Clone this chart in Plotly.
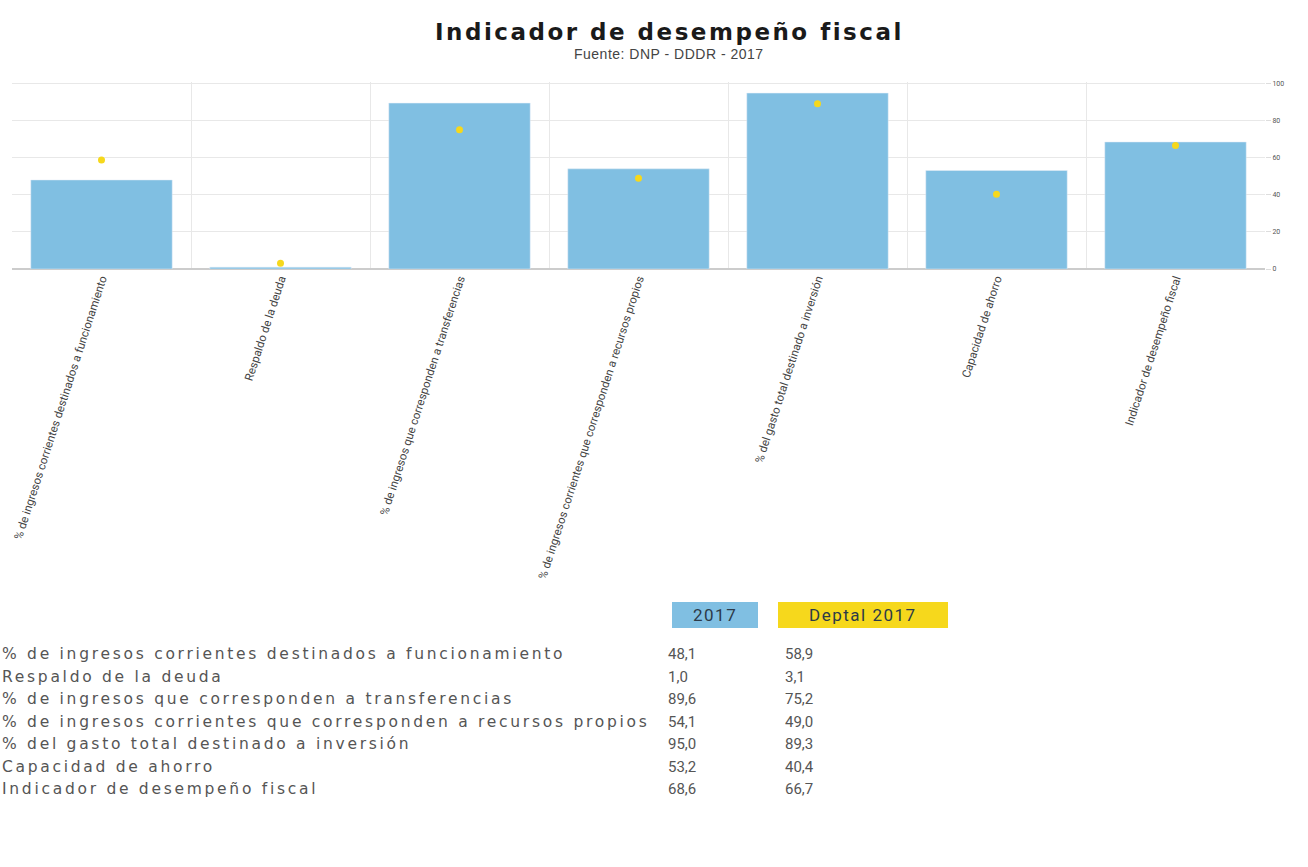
import plotly.graph_objects as go

# ---- data ----
categories = [
    "% de ingresos corrientes destinados a funcionamiento",
    "Respaldo de la deuda",
    "% de ingresos que corresponden a transferencias",
    "% de ingresos corrientes que corresponden a recursos propios",
    "% del gasto total destinado a inversión",
    "Capacidad de ahorro",
    "Indicador de desempeño fiscal",
]
values_2017 = [48.1, 1.0, 89.6, 54.1, 95.0, 53.2, 68.6]
values_deptal = [58.9, 3.1, 75.2, 49.0, 89.3, 40.4, 66.7]
y_ticks = [0, 20, 40, 60, 80, 100]
header_mun = "2017"
header_dep = "Deptal 2017"
title_text = "Indicador de desempeño fiscal"
subtitle_text = "Fuente: DNP - DDDR - 2017"

# ---- geometry ----
W, H = 1308, 867
PL, PR, PT, PB = 12, 1265, 82, 269   # plot area in pixels

def px(x):
    return (x - PL) / (PR - PL)

def py(y):
    return (PB - y) / (PB - PT)

def spaced(t, sp):
    return f'<span style="letter-spacing:{sp}px">{t}</span>'

BLUE = "#80bfe2"
YELLOW = "#f6d81c"
TXT = "#555555"

fig = go.Figure()
fig.add_trace(go.Bar(x=categories, y=values_2017, marker_color=BLUE,
                     width=0.79, name=header_mun, showlegend=False))
fig.add_trace(go.Scatter(x=categories, y=values_deptal, mode="markers",
                         marker=dict(color=YELLOW, size=7), name=header_dep,
                         showlegend=False))

annotations = []
shapes = []

annotations.append(dict(xref="paper", yref="paper", x=px(669), y=py(32),
                        text="<b>" + spaced(title_text, 2.5) + "</b>", showarrow=False,
                        xanchor="center", yanchor="middle",
                        font=dict(family="DejaVu Sans", size=23, color="#1a1a1a")))
annotations.append(dict(xref="paper", yref="paper", x=px(669), y=py(54),
                        text=spaced(subtitle_text, 0.5), showarrow=False,
                        xanchor="center", yanchor="middle",
                        font=dict(family="Liberation Sans, Arial", size=14, color="#444444")))

# table header boxes
shapes.append(dict(type="rect", xref="paper", yref="paper",
                   x0=px(672), x1=px(758), y0=py(628), y1=py(602),
                   fillcolor=BLUE, line=dict(width=0), layer="below"))
shapes.append(dict(type="rect", xref="paper", yref="paper",
                   x0=px(778), x1=px(948), y0=py(628), y1=py(602),
                   fillcolor=YELLOW, line=dict(width=0), layer="below"))
annotations.append(dict(xref="paper", yref="paper", x=px(715), y=py(615),
                        text=spaced(header_mun, 1.5), showarrow=False, xanchor="center", yanchor="middle",
                        font=dict(family="Roboto", size=17, color="#2c3a48")))
annotations.append(dict(xref="paper", yref="paper", x=px(863), y=py(615),
                        text=spaced(header_dep, 1.5), showarrow=False, xanchor="center", yanchor="middle",
                        font=dict(family="Roboto", size=17, color="#2c3a48")))

row_y0, row_dy = 654, 22.5
for i, cat in enumerate(categories):
    yy = py(row_y0 + i * row_dy)
    annotations.append(dict(xref="paper", yref="paper", x=px(0), y=yy, text=spaced(cat, 2.72),
                            showarrow=False, xanchor="left", yanchor="middle",
                            font=dict(family="DejaVu Sans", size=15.5, color=TXT)))
    annotations.append(dict(xref="paper", yref="paper", x=px(666), y=yy,
                            text=f"{values_2017[i]:.1f}".replace(".", ","),
                            showarrow=False, xanchor="left", yanchor="middle",
                            font=dict(family="Roboto", size=15, color=TXT)))
    annotations.append(dict(xref="paper", yref="paper", x=px(783), y=yy,
                            text=f"{values_deptal[i]:.1f}".replace(".", ","),
                            showarrow=False, xanchor="left", yanchor="middle",
                            font=dict(family="Roboto", size=15, color=TXT)))

fig.update_layout(
    width=W, height=H,
    margin=dict(l=PL, r=W - PR, t=PT, b=H - PB, autoexpand=False),
    plot_bgcolor="white", paper_bgcolor="white",
    showlegend=False,
    annotations=annotations, shapes=shapes,
    xaxis=dict(tickangle=-72, tickfont=dict(family="Roboto", size=11.5, color="#444444"),
               showgrid=True, gridcolor="#e8e8e8", tickson="boundaries",
               ticks="", showline=False, automargin=False, zeroline=False),
    yaxis=dict(side="right", range=[0, 101], tickvals=y_ticks,
               tickfont=dict(family="Roboto", size=7, color="#555555"),
               gridcolor="#e8e8e8", ticks="outside", ticklen=5, tickcolor="#dddddd",
               zeroline=True, zerolinecolor="#cccccc", showline=False, automargin=False),
)

fig.write_html("out.html", config={"displayModeBar": False},
               post_script="document.body.style.margin='0px';")
